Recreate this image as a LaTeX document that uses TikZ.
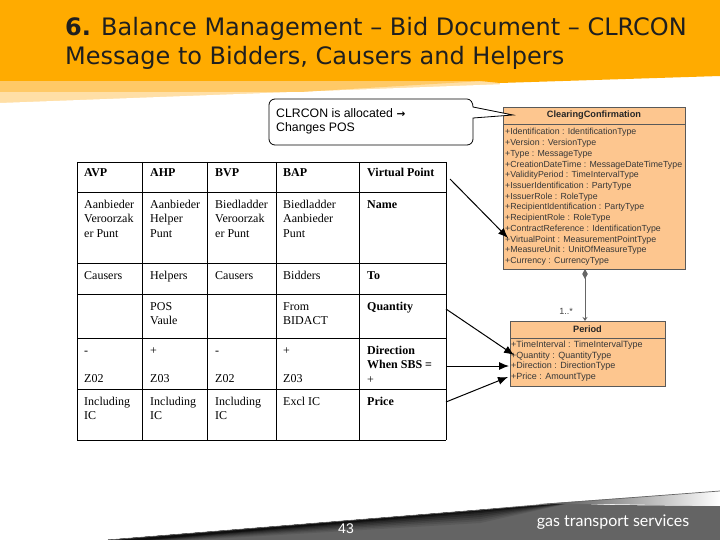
\documentclass[tikz,border=0pt]{standalone}
\usepackage{fontspec}
\usepackage{xcolor}
\setmainfont{Liberation Serif}
\newfontfamily\slidefont{DejaVu Sans}
\newfontfamily\umlfont{Liberation Sans}
\newfontfamily\logofont{Lato}
\usetikzlibrary{arrows.meta,positioning}
\definecolor{headorange}{HTML}{FFAB00}
\definecolor{bandone}{HTML}{FFC966}
\definecolor{bandtwo}{HTML}{FFDFA6}
\definecolor{footgray}{HTML}{646464}
\definecolor{umlfill}{HTML}{FDC68F}
\tikzset{
	cell/.style={anchor=base west,inner sep=0pt,font=\fontsize{12}{14.5}\selectfont},
	headcell/.style={cell,font=\fontsize{12}{14.5}\selectfont\bfseries},
	umlrow/.style={anchor=base west,inner sep=0pt,text=black!78,font=\umlfont\fontsize{8.8}{11}\selectfont},
	periodrow/.style={umlrow,font=\umlfont\fontsize{9}{11}\selectfont},
	umltitle/.style={inner sep=0pt,text=black!85,font=\umlfont\bfseries\fontsize{9.2}{11}\selectfont},
	umlbox/.style={draw=black!65,fill=umlfill,line width=0.7pt},
	pointer/.style={-{Latex[length=10pt,width=8pt]},line width=1pt,black},
}
\newcommand{\twolines}[2]{\begin{tabular}[t]{@{}l@{}}#1\\#2\end{tabular}}
\newcommand{\threelines}[3]{\begin{tabular}[t]{@{}l@{}}#1\\#2\\#3\end{tabular}}
\begin{document}
\begin{tikzpicture}[x=1pt,y=-1pt]
	\useasboundingbox (0,0) rectangle (720,540);
	% header bands
	\fill[bandtwo] (0,0) rectangle (500,103);
	\fill[white] (0,103)--(720,76)--(720,110)--(0,110)--cycle;
	\fill[bandone] (0,80) rectangle (300,92);
	\fill[bandone] (300,80)--(500,80)--(300,92)--cycle;
	\fill[headorange] (0,0)--(720,0)--(720,76)--(500,83)--(480,81)--(0,81)--cycle;
	\node[anchor=base west,inner sep=0pt,text=black!88,font=\slidefont\fontsize{24}{28}\selectfont] (title1) at (65,36) {\textbf{6.} Balance Management – Bid Document – CLRCON};
	\node[anchor=base west,inner sep=0pt,text=black!88,font=\slidefont\fontsize{24}{28}\selectfont] (title2) at (65,65) {Message to Bidders, Causers and Helpers};
	% table lines
	\foreach \x in {77,142,207,276,359,446}
		\draw[line width=0.9pt] (\x,162)--(\x,440);
	\foreach \y in {162,192,263,294,338,389,440}
		\draw[line width=0.9pt] (77,\y)--(446,\y);
	% table text
	\node[headcell] (avp) at (84,177) {AVP};
	\node[headcell] (ahp) at (150,177) {AHP};
	\node[headcell] (bvp) at (215,177) {BVP};
	\node[headcell] (bap) at (283,177) {BAP};
	\node[headcell] (vpoint) at (367,177) {Virtual Point};
	\node[cell] (name1) at (84,208) {\threelines{Aanbieder}{Veroorzak}{er Punt}};
	\node[cell] (name2) at (150,208) {\threelines{Aanbieder}{Helper}{Punt}};
	\node[cell] (name3) at (215,208) {\threelines{Biedladder}{Veroorzak}{er Punt}};
	\node[cell] (name4) at (283,208) {\threelines{Biedladder}{Aanbieder}{Punt}};
	\node[headcell] (name5) at (367,208) {Name};
	\node[cell] (to1) at (84,279) {Causers};
	\node[cell] (to2) at (150,279) {Helpers};
	\node[cell] (to3) at (215,279) {Causers};
	\node[cell] (to4) at (283,279) {Bidders};
	\node[headcell] (to5) at (367,279) {To};
	\node[cell] (qty2) at (150,310) {\twolines{POS}{Vaule}};
	\node[cell] (qty4) at (283,310) {\twolines{From}{BIDACT}};
	\node[headcell] (qty5) at (367,310) {Quantity};
	\node[cell] (dir1) at (84,354) {-};
	\node[cell] (dir2) at (150,354) {+};
	\node[cell] (dir3) at (215,354) {-};
	\node[cell] (dir4) at (283,354) {+};
	\node[headcell] (dir5) at (367,354) {\threelines{Direction}{When SBS =}{{\mdseries +}}};
	\node[cell] (zone1) at (84,382) {Z02};
	\node[cell] (zone2) at (150,382) {Z03};
	\node[cell] (zone3) at (215,382) {Z02};
	\node[cell] (zone4) at (283,382) {Z03};
	\node[cell] (price1) at (84,405) {\twolines{Including}{IC}};
	\node[cell] (price2) at (150,405) {\twolines{Including}{IC}};
	\node[cell] (price3) at (215,405) {\twolines{Including}{IC}};
	\node[cell] (price4) at (283,405) {Excl IC};
	\node[headcell] (price5) at (367,405) {Price};
	% clearing confirmation class
	\fill[black!30] (505,109) rectangle (686,270);
	\draw[umlbox] (503,107) rectangle (685,269);
	\draw[black!65,line width=0.7pt] (503,124)--(685,124);
	\node[umltitle] (clearing) at (594,115.5) {ClearingConfirmation};
	\foreach \i/\t in {0/Identification : IdentificationType,1/Version : VersionType,2/Type : MessageType,
		3/CreationDateTime : MessageDateTimeType,4/ValidityPeriod : TimeIntervalType,
		5/IssuerIdentification : PartyType,6/IssuerRole : RoleType,7/RecipientIdentification : PartyType,
		8/RecipientRole : RoleType,9/ContractReference : IdentificationType,10/VirtualPoint : MeasurementPointType,
		11/MeasureUnit : UnitOfMeasureType,12/Currency : CurrencyType}
		\node[umlrow] at (505,{135+10.7*\i}) {+\t};
	% period class
	\fill[black!25] (512,323) rectangle (666,387);
	\draw[umlbox] (510,321) rectangle (665,386);
	\draw[black!65,line width=0.7pt] (510,338)--(665,338);
	\node[umltitle] (period) at (587.5,329.5) {Period};
	\foreach \i/\t in {0/TimeInterval : TimeIntervalType,1/Quantity : QuantityType,2/Direction : DirectionType,3/Price : AmountType}
		\node[periodrow] at (511,{347.5+10.7*\i}) {+\t};
	% association
	\coordinate (assoctop) at (585,269);
	\coordinate (assocend) at (585,321);
	\draw[black!60,line width=0.8pt,{Diamond[length=10pt,width=5.5pt]}-{Stealth[length=4pt,width=5pt]}] (assoctop)--(assocend);
	\node[inner sep=0pt,text=black!75,font=\umlfont\fontsize{9}{11}\selectfont] (mult) at (566,311) {1..*};
	% callout
	\draw[fill=white,line width=0.8pt] (275,99)--(467,99)
		to[out=0,in=90] (473,107)
		--(513,115)--(473,118)
		--(473,139) to[out=-90,in=0] (467,145)
		--(275,145) to[out=180,in=-90] (269,139)
		--(269,105) to[out=90,in=180] (275,99)--cycle;
	\node[anchor=base west,inner sep=0pt,font=\umlfont\fontsize{12.3}{14}\selectfont] (allocated) at (276,118) {\twolines{CLRCON is allocated {\slidefont\bfseries\fontsize{10.5}{14}\selectfont →}}{Changes POS}};
	% pointers
	\coordinate (vpfrom) at (450,179);
	\coordinate (vpto) at (508,238);
	\coordinate (qtyfrom) at (446,309);
	\coordinate (qtyto) at (514,355);
	\coordinate (dirfrom) at (446,366);
	\coordinate (dirto) at (509,366);
	\coordinate (pricefrom) at (446,402);
	\coordinate (priceto) at (508,377);
	\draw[pointer] (vpfrom)--(vpto);
	\draw[pointer] (qtyfrom)--(qtyto);
	\draw[pointer] (dirfrom)--(dirto);
	\draw[pointer] (pricefrom)--(priceto);
	% footer
	\fill[footgray] (108,540)--(380,518)--(560,503)--(610,505)--(720,506)--(720,540)--cycle;
	\foreach \h/\c in {13/10,11/20,9/32,7/45,5/58,3/72,1.5/85}
		\fill[black!\c!footgray] (108,540)--(480,510)--(570,503)--(480,{510+\h})--(140,{540+\h/4})--cycle;
	\shade[left color=black!70,right color=white] (540,504)--(720,491)--(720,506)--(600,504)--cycle;
	\draw[black!60,line width=0.7pt] (108,540)--(380,518)--(480,510)--(560,503)--(720,491);
	\node[inner sep=0pt,text=white,font=\umlfont\fontsize{14}{16}\selectfont] (pagenum) at (346,529) {43};
	\node[inner sep=0pt,text=white,font=\logofont\fontsize{16}{18}\selectfont] (logo) at (613,522) {gas transport services};
\end{tikzpicture}
\end{document}
